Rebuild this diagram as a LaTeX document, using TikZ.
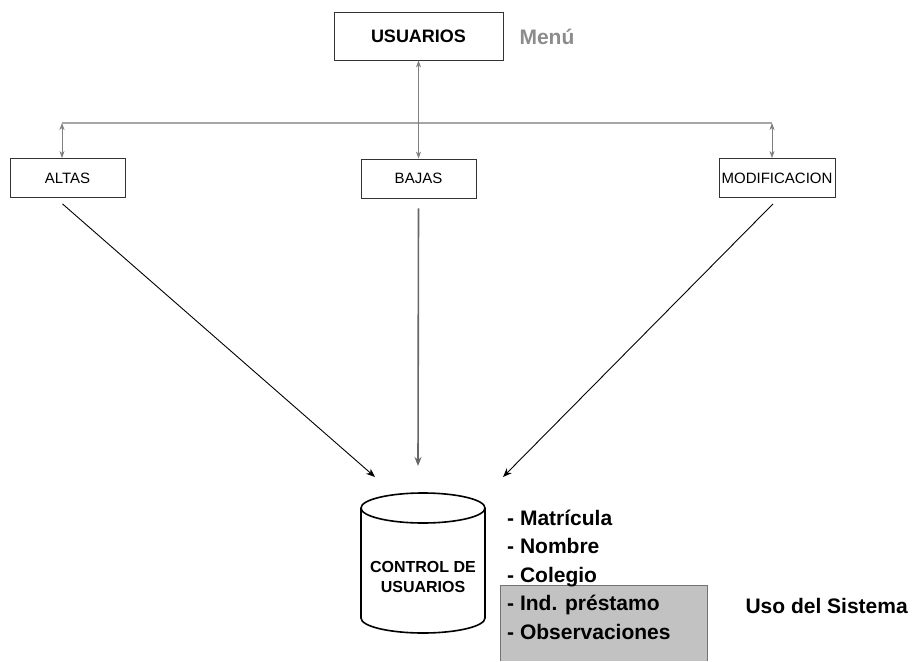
\documentclass[tikz,border=0pt]{standalone}
\usepackage{fontspec}
\setmainfont{Liberation Sans}
\usetikzlibrary{arrows.meta, positioning}

\begin{document}
\begin{tikzpicture}[x=1pt, y=-1pt,
    caja/.style={draw=black!80, line width=0.8pt, inner sep=0pt, fill=white,
      minimum width=115pt, minimum height=39pt, font=\fontsize{15}{18}\selectfont},
    menulinea/.style={draw=black!35, line width=1.5pt},
    menuflecha/.style={draw=black!50, line width=0.9pt,
      {Stealth[length=7pt,width=5pt,inset=2pt]}-{Stealth[length=7pt,width=5pt,inset=2pt]}},
    flecha/.style={draw=black, line width=0.9pt, -{Stealth[length=9pt,width=7pt,inset=3pt]}},
    campo/.style={anchor=base west, inner sep=0pt, font=\bfseries\fontsize{21}{24}\selectfont}]
  \useasboundingbox (0,0) rectangle (915,661);

  % menu
  \node[caja, minimum width=169pt, minimum height=48pt, font=\bfseries\fontsize{18}{21}\selectfont]
    (usuarios) at (418.5,36) {USUARIOS};
  \node[anchor=west, text=black!45, font=\bfseries\fontsize{21}{24}\selectfont]
    (menu) at (516,37) {Menú};

  \node[caja] (altas) at (67.5,178) {ALTAS};
  \node[caja] (bajas) at (418.5,178.5) {BAJAS};
  \node[caja, minimum width=116pt, inner xsep=1pt] (modif) at (777,178) {MODIFICACION};

  \coordinate (busL) at (62,123);
  \coordinate (busR) at (772,123);
  \draw[menulinea] (busL) -- (busR);
  \draw[menuflecha] (busL) -- (busL |- altas.north);
  \draw[menuflecha] (busR) -- (busR |- modif.north);
  \draw[menuflecha] (usuarios.south) -- (bajas.north);

  % base de datos
  \draw[line width=1.6pt] (361,508) -- (361,618)
    arc[start angle=180, end angle=0, x radius=62, y radius=15] -- (485,508);
  \draw[line width=1.6pt] (423,508) ellipse [x radius=62, y radius=15];
  \node[align=center, font=\bfseries\fontsize{16}{20}\selectfont] (db) at (423,577)
    {CONTROL DE\\USUARIOS};

  \coordinate (inA) at (375,477);
  \coordinate (inB) at (418,466);
  \coordinate (inM) at (503,477);
  \draw[flecha] ([shift={(-5,6)}]altas.south) -- (inA);
  \draw[flecha, draw=black!60, line width=1.6pt] ([shift={(0,10)}]bajas.south) -- (inB);
  \draw[flecha] ([shift={(-4,6)}]modif.south) -- (inM);

  % campos
  \fill[black!24] (500,585) rectangle (707,661);
  \draw[black!55, line width=0.8pt] (500,661) -- (500,585) -- (707,585) -- (707,661);
  \foreach \i/\campoTexto in {1/Matrícula, 2/Nombre, 3/Colegio, 4/Ind. préstamo, 5/Observaciones}
    \node[campo] (c\i) at (507,525+28.5*\i-28.5) {- \campoTexto};

  \node[anchor=base west, font=\bfseries\fontsize{21}{24}\selectfont] (uso) at (742,613) {Uso del Sistema};
\end{tikzpicture}
\end{document}
